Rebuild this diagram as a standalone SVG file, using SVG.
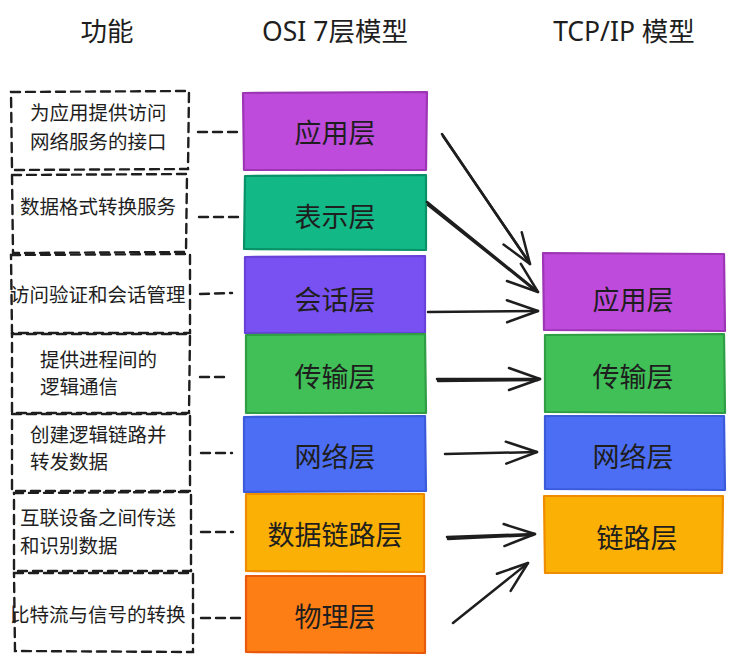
<svg xmlns="http://www.w3.org/2000/svg" width="735" height="663" viewBox="0 0 735 663">
<defs>
<style>
text{font-family:"Noto Sans","Noto Sans CJK SC","Liberation Sans",sans-serif;fill:#1e1e1e}
.title{font-size:26.5px;text-anchor:middle}
.fn{font-size:19.5px}
.lbl{font-size:27px;text-anchor:middle}
.dash{fill:none;stroke:#1e1e1e;stroke-width:2.4;stroke-dasharray:9 6;stroke-linecap:round}
.conn{fill:none;stroke:#1e1e1e;stroke-width:2.5;stroke-linecap:round;stroke-linejoin:round}
.layer{stroke-width:2.2;stroke-linejoin:round}
.purple{fill:#be4bdb;stroke:#9c36b5}
.teal{fill:#12b886;stroke:#099268}
.violet{fill:#7950f2;stroke:#6741d9}
.green{fill:#40c057;stroke:#2f9e44}
.blue{fill:#4c6ef5;stroke:#3b5bdb}
.yellow{fill:#fab005;stroke:#f08c00}
.orange{fill:#fd7e14;stroke:#e8590c}
</style>
<marker id="head" markerUnits="userSpaceOnUse" markerWidth="40" markerHeight="30" refX="0" refY="0" viewBox="-34 -15 38 30" orient="auto" overflow="visible">
<path d="M-31,-11 L0,0 L-31,11" fill="none" stroke="#1e1e1e" stroke-width="2.5" stroke-linecap="round" stroke-linejoin="round"/>
</marker>
</defs>
<rect width="735" height="663" fill="#ffffff"/>

<g id="titles">
<text class="title" x="107" y="41">功能</text>
<text class="title" x="335" y="41">OSI 7层模型</text>
<text class="title" x="624" y="41">TCP/IP 模型</text>
</g>

<g id="fn1"><path class="dash" d="M11,92 L189,91 L188,169 L12,170 Z"/><text class="fn" x="30" y="120">为应用提供访问</text><text class="fn" x="30" y="149">网络服务的接口</text></g>
<g id="fn2"><path class="dash" d="M12,175 L187,174 L186,252 L13,253 Z"/><text class="fn" x="20" y="214">数据格式转换服务</text></g>
<g id="fn3"><path class="dash" d="M11,255 L190,254 L190,333 L12,333 Z"/><text class="fn" x="10" y="302">访问验证和会话管理</text></g>
<g id="fn4"><path class="dash" d="M12,334 L190,334 L189,413 L12,413 Z"/><text class="fn" x="40" y="367">提供进程间的</text><text class="fn" x="40" y="394">逻辑通信</text></g>
<g id="fn5"><path class="dash" d="M12,414 L190,414 L190,491 L12,491 Z"/><text class="fn" x="30" y="442">创建逻辑链路并</text><text class="fn" x="30" y="469">转发数据</text></g>
<g id="fn6"><path class="dash" d="M14,493 L191,492 L191,571 L14,571 Z"/><text class="fn" x="20" y="525">互联设备之间传送</text><text class="fn" x="20" y="553">和识别数据</text></g>
<g id="fn7"><path class="dash" d="M14,573 L193,573 L193,652 L15,651 Z"/><text class="fn" x="10" y="622">比特流与信号的转换</text></g>

<g id="osi-app"><path class="layer purple" d="M243,93 L427,92 L426,170 L244,170 Z"/><text class="lbl" x="335" y="143">应用层</text></g>
<g id="osi-pres"><path class="layer teal" d="M245,176 L426,175 L426,250 L244,249 Z"/><text class="lbl" x="335" y="227">表示层</text></g>
<g id="osi-sess"><path class="layer violet" d="M245,257 L425,256 L425,333 L245,333 Z"/><text class="lbl" x="335" y="310">会话层</text></g>
<g id="osi-trans"><path class="layer green" d="M246,335 L425,334 L426,413 L246,413 Z"/><text class="lbl" x="335" y="387">传输层</text></g>
<g id="osi-net"><path class="layer blue" d="M244,417 L425,416 L426,491 L244,492 Z"/><text class="lbl" x="335" y="467">网络层</text></g>
<g id="osi-link"><path class="layer yellow" d="M246,494 L424,494 L424,572 L246,571 Z"/><text class="lbl" x="335" y="545">数据链路层</text></g>
<g id="osi-phys"><path class="layer orange" d="M246,576 L425,576 L425,653 L246,652 Z"/><text class="lbl" x="335" y="627">物理层</text></g>

<g id="tcp-app"><path class="layer purple" d="M543,253 L724,254 L725,331 L544,330 Z"/><text class="lbl" x="633" y="310">应用层</text></g>
<g id="tcp-trans"><path class="layer green" d="M545,335 L724,334 L725,413 L545,412 Z"/><text class="lbl" x="633" y="387">传输层</text></g>
<g id="tcp-net"><path class="layer blue" d="M545,416 L724,416 L725,490 L545,489 Z"/><text class="lbl" x="633" y="467">网络层</text></g>
<g id="tcp-link"><path class="layer yellow" d="M544,496 L723,496 L722,573 L545,573 Z"/><text class="lbl" x="637" y="548">链路层</text></g>

<g id="connectors">
<path class="dash" d="M198,132 L238,132"/>
<path class="dash" d="M199,217 L238,217"/>
<path class="dash" d="M200,294 L232,293"/>
<path class="dash" d="M200,377 L230,377"/>
<path class="dash" d="M201,453 L232,453"/>
<path class="dash" d="M201,532 L233,532"/>
<path class="dash" d="M201,618 L240,618"/>

<path class="conn" d="M442,134 L530,264" marker-end="url(#head)"/>
<path class="conn" d="M443,136 L529,262"/>
<path class="conn" d="M427,202 L538,292" marker-end="url(#head)"/>
<path class="conn" d="M428,205 L536,291"/>
<path class="conn" d="M428,312 L538,311" marker-end="url(#head)"/>
<path class="conn" d="M437,379 L540,379" marker-end="url(#head)"/>
<path class="conn" d="M438,381 L538,380"/>
<path class="conn" d="M445,454 L537,452" marker-end="url(#head)"/>
<path class="conn" d="M447,537 L535,534" marker-end="url(#head)"/>
<path class="conn" d="M448,539 L533,535"/>
<path class="conn" d="M453,623 L528,563" marker-end="url(#head)"/>
</g>
</svg>
